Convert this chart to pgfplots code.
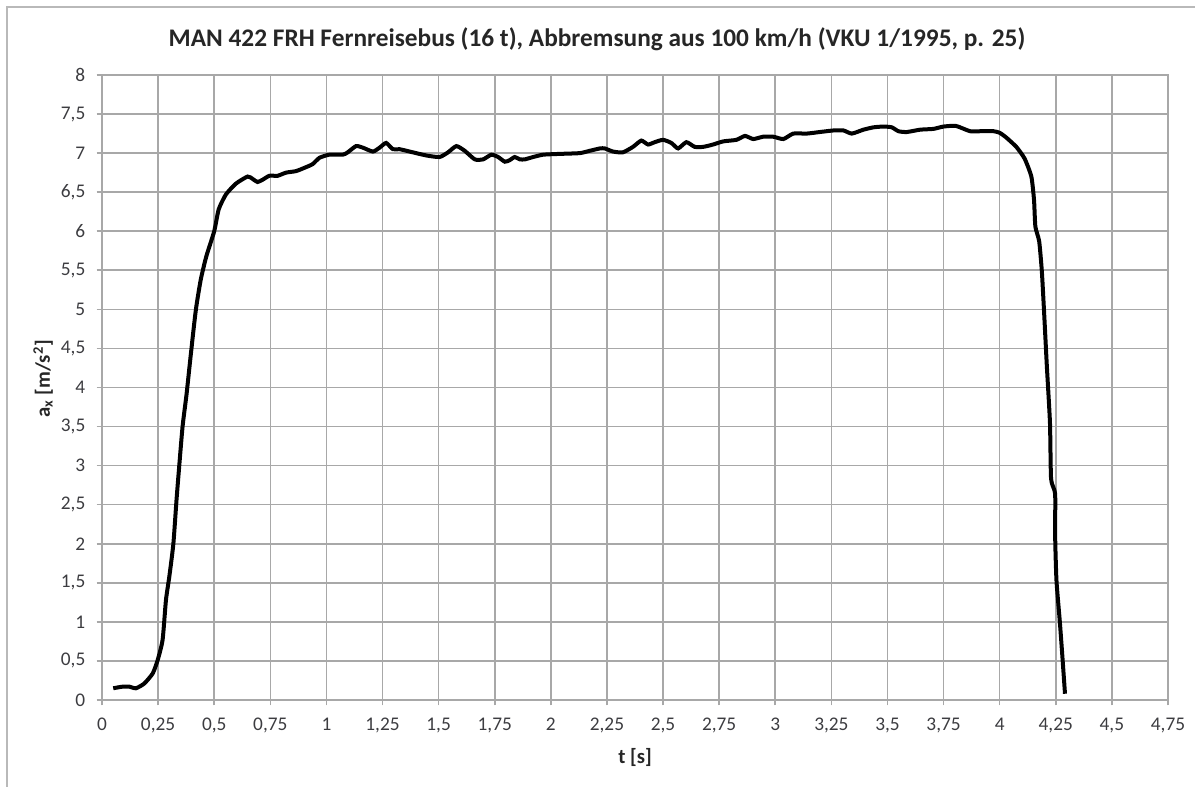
\documentclass[border=0pt]{standalone}
\usepackage{fontspec}
\setmainfont{Carlito}
\usepackage{pgfplots}
\pgfplotsset{compat=1.18}
\definecolor{gridgray}{RGB}{168,168,168}
\definecolor{txt}{RGB}{60,60,64}
\begin{document}
\begin{tikzpicture}
\useasboundingbox (0,0) rectangle (896.25pt,590.25pt);
\draw[gridgray!80, line width=1.2pt] (5.25pt,0) -- (5.25pt,585pt) -- (896.25pt,585pt);
\node[font=\bfseries\fontsize{19}{22}\selectfont, text=black!85] at (447.75pt,561pt)
  {MAN 422 FRH Fernreisebus (16 t), Abbremsung aus 100 km/h (VKU 1/1995, p. 25)};
\begin{axis}[
  at={(76.5pt,65.25pt)}, anchor=south west,
  scale only axis, width=799.5pt, height=468.75pt,
  xmin=0, xmax=4.75, ymin=0, ymax=8,
  xtick={0,0.25,0.5,0.75,1,1.25,1.5,1.75,2,2.25,2.5,2.75,3,3.25,3.5,3.75,4,4.25,4.5,4.75},
  ytick={0,0.5,1,1.5,2,2.5,3,3.5,4,4.5,5,5.5,6,6.5,7,7.5,8},
  xtick pos=bottom, ytick pos=left,
  tick align=outside, major tick length=4pt,
  tick style={gridgray, line width=1.2pt},
  grid=major,
  major grid style={gridgray, line width=1.2pt},
  axis line style={gridgray, line width=1.2pt},
  /pgf/number format/.cd, use comma, 1000 sep={}, fixed, assume math mode=true,
  /pgfplots/.cd,
  xticklabel style={font=\fontsize{14.5}{17}\selectfont, text=txt, yshift=-6pt},
  yticklabel style={font=\fontsize{14.5}{17}\selectfont, text=txt, xshift=-5pt},
  xlabel={t [s]},
  ylabel={a\textsubscript{x} [m/s\textsuperscript{2}]},
  every axis x label/.style={at={(axis description cs:0.5,-0.0912)}, anchor=center,
    font=\bfseries\fontsize{15.5}{18}\selectfont, text=black!85},
  every axis y label/.style={at={(axis description cs:-0.0553,0.514)}, anchor=center, rotate=90,
    font=\bfseries\fontsize{15.5}{18}\selectfont, text=black!85},
]
\addplot[black, line width=3pt, smooth, tension=0.35] coordinates {
(0.050,0.15) (0.090,0.17) (0.122,0.17) (0.151,0.15) (0.188,0.21) (0.226,0.34)
(0.248,0.51) (0.270,0.77) (0.285,1.28) (0.300,1.58) (0.318,2.00) (0.332,2.56)
(0.344,2.99) (0.359,3.50) (0.377,3.92) (0.396,4.43) (0.418,4.99) (0.440,5.38)
(0.465,5.68) (0.500,6.00) (0.520,6.28) (0.552,6.47) (0.597,6.61) (0.649,6.70)
(0.671,6.67) (0.693,6.63) (0.716,6.66) (0.746,6.71) (0.783,6.71) (0.820,6.75)
(0.865,6.77) (0.909,6.82) (0.939,6.86) (0.969,6.94) (1.013,6.98) (1.073,6.98)
(1.095,7.01) (1.132,7.09) (1.162,7.07) (1.207,7.02) (1.237,7.07) (1.266,7.13)
(1.296,7.05) (1.326,7.05) (1.385,7.01) (1.445,6.97) (1.504,6.95) (1.542,7.01)
(1.579,7.09) (1.616,7.03) (1.661,6.92) (1.698,6.92) (1.735,6.98) (1.765,6.95)
(1.795,6.89) (1.817,6.91) (1.839,6.95) (1.862,6.92) (1.884,6.92) (1.921,6.95)
(1.966,6.98) (2.040,6.99) (2.129,7.00) (2.174,7.03) (2.219,7.06) (2.240,7.06)
(2.277,7.02) (2.321,7.01) (2.366,7.08) (2.403,7.16) (2.433,7.11) (2.463,7.14)
(2.500,7.17) (2.537,7.13) (2.567,7.06) (2.604,7.14) (2.641,7.08) (2.679,7.08)
(2.723,7.11) (2.768,7.15) (2.827,7.17) (2.865,7.22) (2.902,7.18) (2.946,7.21)
(2.991,7.21) (3.036,7.18) (3.080,7.25) (3.140,7.25) (3.199,7.27) (3.259,7.29)
(3.304,7.29) (3.341,7.25) (3.393,7.30) (3.438,7.33) (3.482,7.34) (3.519,7.33)
(3.549,7.28) (3.586,7.27) (3.646,7.30) (3.705,7.31) (3.750,7.34) (3.802,7.35)
(3.832,7.32) (3.869,7.28) (3.914,7.28) (3.973,7.28) (4.000,7.26) (4.029,7.20)
(4.074,7.08) (4.111,6.93) (4.141,6.70) (4.153,6.40) (4.159,6.06) (4.176,5.87)
(4.188,5.48) (4.199,4.90) (4.210,4.28) (4.224,3.55) (4.229,2.83) (4.247,2.64)
(4.247,2.11) (4.253,1.53) (4.268,1.00) (4.279,0.57) (4.291,0.08)
};
\end{axis}
\end{tikzpicture}
\end{document}
